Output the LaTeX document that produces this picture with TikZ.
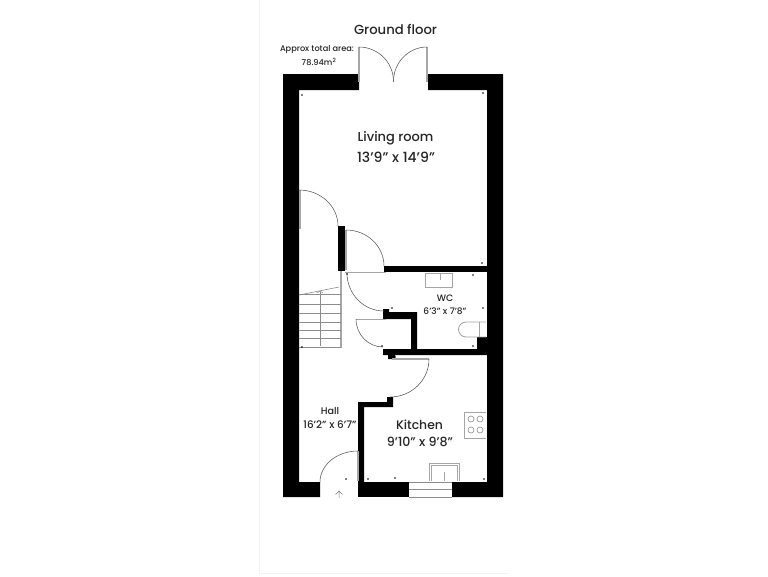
\documentclass[tikz,border=0pt]{standalone}
\usepackage{fontspec}
\setmainfont{Poppins}[UprightFont=* Medium]
\tikzset{
  wall/.style={fill=black,draw=none},
  fit/.style={draw=black!35,line width=0.9pt,fill=none},
  leaf/.style={draw=black!35,line width=1.1pt},
  swing/.style={draw=black!65,line width=0.55pt},
  lbl/.style={inner sep=0pt,align=center,text=black!85,font=\fontsize{#1}{#1}\selectfont},
  tick/.style={fill=black,draw=none,circle,minimum size=1.8pt,inner sep=0pt},
}
\begin{document}
\begin{tikzpicture}[x=1pt,y=-1pt]
\useasboundingbox (0,0) rectangle (768,576);
\fill[white] (0,0) rectangle (768,576);
\draw[black!5,line width=0.6pt] (259,0) -- (259,573) -- (508,573);
% outer walls
\fill[wall] (283,74) -- (359,74) -- (359,90) -- (299,90) -- (299,482) -- (320,482) -- (320,497) -- (283,497) -- cycle;
\fill[wall] (428,74) -- (503,74) -- (503,497) -- (452,497) -- (452,482) -- (487,482) -- (487,90) -- (428,90) -- cycle;
\fill[wall] (358,482) -- (409,482) -- (409,497) -- (358,497) -- cycle;
% inner walls
\fill[wall] (338,226) rectangle (344.5,271);
\fill[wall] (384,266) rectangle (487,272);
\fill[wall] (383,309) -- (389,309) -- (389,312) -- (417,312) -- (417,349) -- (477,349) -- (477,337) -- (487,337) -- (487,355) -- (395,355) -- (395,359) -- (388,359) -- (388,355) -- (383,355) -- (383,349) -- (411,349) -- (411,319) -- (383,319) -- cycle;
\fill[wall] (387,397) -- (393,397) -- (393,407) -- (364,407) -- (364,482) -- (358,482) -- (358,402) -- (387,402) -- cycle;
% french doors
\draw[leaf] (359,47) -- (359,82);
\draw[leaf] (427,47) -- (427,82);
\draw[swing] (359,47) arc[start angle=-90,end angle=0,x radius=34.5,y radius=34.5];
\draw[swing] (427,47) arc[start angle=-90,end angle=-180,x radius=33.5,y radius=34.5];
% door to living room from hall
\draw[leaf] (300,190) -- (300,229);
\draw[swing] (299,190) arc[start angle=-90,end angle=0,x radius=39,y radius=36];
% WC corridor door
\draw[leaf] (346,230) -- (346,270);
\draw[swing] (346,230) arc[start angle=-90,end angle=0,x radius=38,y radius=36];
\draw[leaf] (345,272.5) -- (386,272.5);
\draw[leaf] (341,271) -- (341,348);
\draw[swing] (347,273) arc[start angle=180,end angle=90,x radius=37,y radius=38];
% cupboard door
\draw[leaf] (356,319.5) -- (386,319.5);
\draw[swing] (356,319) arc[start angle=180,end angle=90,x radius=27,y radius=28];
% kitchen door
\draw[leaf] (392,359) -- (429,359);
\draw[swing] (429,359) arc[start angle=0,end angle=90,x radius=39,y radius=38];
% entrance door
\draw[leaf] (358,451) -- (358,481);
\draw[swing] (358,451) arc[start angle=-90,end angle=-180,x radius=38,y radius=31];
\draw[black!50,line width=0.5pt] (339,498) -- (339,491) (335.5,494.5) -- (339,491) -- (342.5,494.5);
% kitchen window
\draw[black!45,line width=0.6pt] (409,482) -- (452,482) (409,489) -- (452,489) (409,497) -- (452,497);
% stairs
\foreach \yy in {294,304,313,322,330,338,347}{\draw[black!45,line width=0.6pt] (299,\yy) -- (341,\yy);}
\draw[black!45,line width=0.6pt] (320,292) -- (320,346);
\draw[black!45,line width=0.6pt] (299,295) -- (339,287);
\draw[black!45,line width=0.5pt] (317,293) -- (320,291) -- (323,293);
% WC basin
\draw[fit] (425,273) rectangle (452,287);
\draw[black!35,line width=0.6pt] (440,273) -- (440,280);
% toilet
\draw[fit] (486,322) -- (466,322) arc[start angle=-90,end angle=-270,radius=7.5] -- (486,337);
\draw[black!35,line width=0.7pt] (479,322) -- (479,337);
% hob
\draw[fit] (486,412) -- (464,412) -- (464,438) -- (486,438);
\foreach \cx/\cy in {471/419,480/419,471/430,480/430}{\draw[black!45,line width=0.6pt] (\cx,\cy) circle[radius=3];}
% kitchen sink
\draw[fit] (429,481) -- (429,463) -- (459,463) -- (459,481);
\draw[black!35,line width=0.6pt] (431,481) -- (431,465) -- (457,465) -- (457,481);
\draw[black!35,line width=0.6pt] (444,472) -- (444,481);
% dimension ticks
\foreach \tx/\ty in {302/95,483/93,482/263,473/275,392/308,483/308,473/346,382/346,302/347,347/274,395/357,346/479,395/478,368/479,484/479}{\node[tick] at (\tx,\ty) {};}
% labels
\node[lbl=13.2] (t1) at (395.5,29) {Ground floor};
\node[lbl=8.2] (t2) at (317,50) {Approx total area:};
\node[lbl=8.2] (t3) at (319,62) {78.94m\textsuperscript{2}};
\node[lbl=13] (t4) at (395.5,138) {Living room};
\node[lbl=14] (t5) at (396,157) {13’9” x 14’9”};
\node[lbl=9.3] (t6) at (445,298) {WC};
\node[lbl=9] (t7) at (445,311) {6’3” x 7’8”};
\node[lbl=9.6] (t8) at (330,411) {Hall};
\node[lbl=10.4] (t9) at (330,425) {16’2” x 6’7”};
\node[lbl=12.4] (t10) at (419.5,425) {Kitchen};
\node[lbl=12.6] (t11) at (420,442) {9’10” x 9’8”};
\end{tikzpicture}
\end{document}
